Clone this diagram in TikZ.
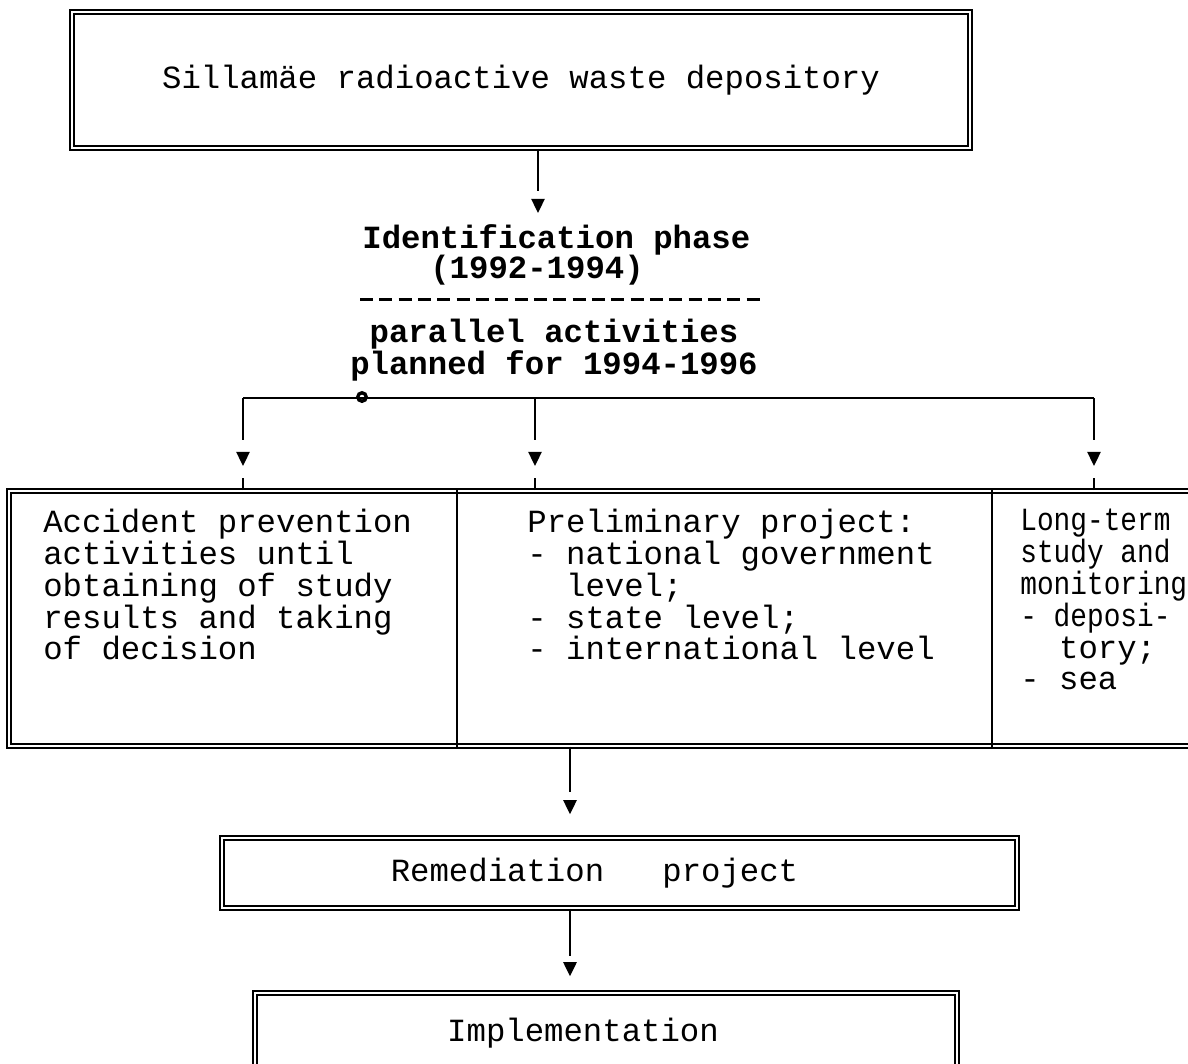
\documentclass[tikz,border=0pt]{standalone}
\usepackage{fontspec}
\usepackage{graphicx}
\setmonofont{Liberation Mono}
\usetikzlibrary{arrows.meta}

\begin{document}
\begin{tikzpicture}[x=0.02cm, y=-0.02cm,
    font=\ttfamily\fontsize{18.4pt}{18.1pt}\selectfont,
    dbl/.style={draw, double, double distance=1.4pt, line width=0.9pt},
    txt/.style={inner sep=0pt, align=left},
    heavy/.style={font=\ttfamily\bfseries\fontsize{18.4pt}{17.2pt}\selectfont},
    flow/.style={line width=0.9pt, -{Triangle[width=7.6pt, length=8pt]}, dash pattern=on #1 off 300pt},
    plain/.style={line width=0.9pt}]
        \def \colwd {0.86}
        \useasboundingbox (0,0) rectangle (1188,1063);
        \clip (0,0) rectangle (1188,1063);

        \node[dbl, minimum width=17.96cm, minimum height=2.72cm] (depo) at (521,80) {Sillamäe radioactive waste depository};

        \node[txt, heavy, anchor=north west] (ident) at (362,224) {Identification phase\\\hspace*{1.36cm}(1992-1994)};
        \coordinate (rulel) at (360,299);
        \coordinate (ruler) at (764,299);
        \node[txt, heavy, align=center] (parallel) at (554,350) {parallel activities\\planned for 1994-1996};

        \coordinate (bl) at (243,398);
        \coordinate (bm) at (535,398);
        \coordinate (br) at (1094,398);
        \node[circle, draw, line width=1.9pt, inner sep=0pt, minimum size=0.17cm] (knot) at (362,397) {};

        \node[dbl, anchor=north west, minimum width=24.44cm, minimum height=5.1cm] (row) at (8,490) {};
        \coordinate (cut1) at (457,490);
        \coordinate (cut2) at (992,490);

        \node[txt, anchor=north west] (accident) at (43,509) {Accident prevention\\activities until\\obtaining of study\\results and taking\\of decision};
        \node[txt, anchor=north west] (prelim) at (527,509) {Preliminary project:\\- national government\\\hphantom{- }level;\\- state level;\\- international level};
        \node[txt, anchor=north west] (longterm) at (1020,509) {\scalebox{\colwd}[1]{Long-term}\\\scalebox{\colwd}[1]{study and}\\\scalebox{\colwd}[1]{monitoring}\\\scalebox{\colwd}[1]{- deposi-}\\\hphantom{- }tory;\\- sea};

        \node[dbl, minimum width=15.9cm, minimum height=1.4cm] (remed) at (619.5,873) {Remediation~~~project\hspace*{1cm}};
        \node[dbl, minimum width=14.04cm, minimum height=1.6cm] (impl) at (606,1033) {Implementation\hspace*{0.92cm}};

        % connectors
        \draw[line width=1.7pt, dash pattern=on 7.4pt off 3.6pt] (rulel) -- (ruler);
        \draw[flow=23.9pt, shorten >=6.3pt] (depo.south -| 538,0) -- (ident.north -| 538,0);
        \draw[plain] (bl) -- (br);
        \draw[flow=23.9pt, shorten >=13.7pt] (bl) -- (bl |- row.north);
        \draw[flow=23.9pt, shorten >=13.7pt] (bm) -- (bm |- row.north);
        \draw[flow=23.9pt, shorten >=13.7pt] (br) -- (br |- row.north);
        \draw[plain] (bl |- row.north) -- ++(0,-12);
        \draw[plain] (bm |- row.north) -- ++(0,-12);
        \draw[plain] (br |- row.north) -- ++(0,-12);
        \draw[plain] (cut1) -- (cut1 |- row.south);
        \draw[plain] (cut2) -- (cut2 |- row.south);
        \draw[flow=25.6pt, shorten >=13.1pt] (row.south -| 570,0) -- (remed.north -| 570,0);
        \draw[flow=26.7pt, shorten >=9.1pt] (remed.south -| 570,0) -- (impl.north -| 570,0);
      \end{tikzpicture}
\end{document}
